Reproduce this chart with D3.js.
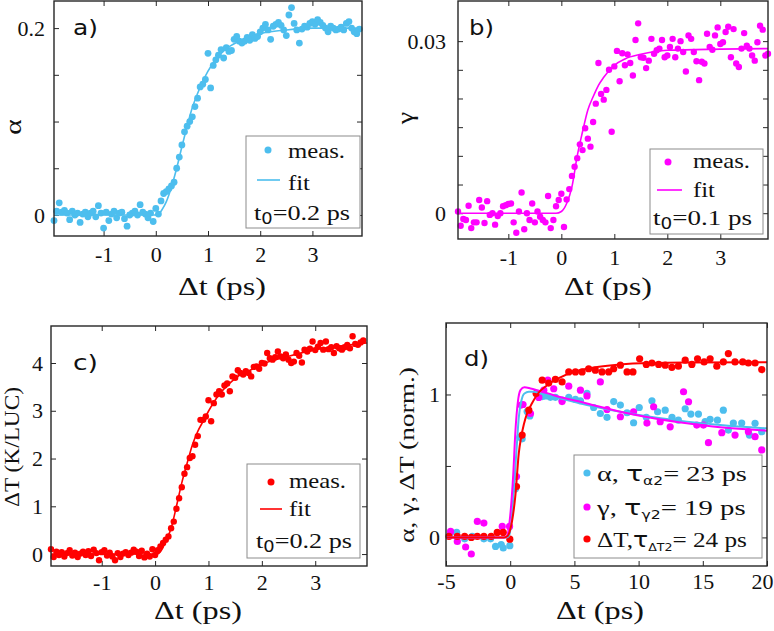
<!DOCTYPE html>
<html><head><meta charset="utf-8">
<script src="https://cdn.jsdelivr.net/npm/d3@7"></script>
</head><body style="margin:0">
<svg id="chart" width="774" height="631"></svg>
<script>
// ---------- data ----------
const tGrid = [
-1.95,-1.9,-1.85,-1.8,-1.75,-1.7,-1.65,-1.6,-1.55,-1.5,
-1.45,-1.4,-1.35,-1.3,-1.25,-1.2,-1.15,-1.1,-1.05,-1,
-0.95,-0.9,-0.85,-0.8,-0.75,-0.7,-0.65,-0.6,-0.55,-0.5,
-0.45,-0.4,-0.35,-0.3,-0.25,-0.2,-0.15,-0.1,-0.05,0,
0.05,0.1,0.15,0.2,0.25,0.3,0.35,0.4,0.45,0.5,
0.55,0.6,0.65,0.7,0.75,0.8,0.85,0.9,0.95,1,
1.05,1.1,1.15,1.2,1.25,1.3,1.35,1.4,1.45,1.5,
1.55,1.6,1.65,1.7,1.75,1.8,1.85,1.9,1.95,2,
2.05,2.1,2.15,2.2,2.25,2.3,2.35,2.4,2.45,2.5,
2.55,2.6,2.65,2.7,2.75,2.8,2.85,2.9,2.95,3,
3.05,3.1,3.15,3.2,3.25,3.3,3.35,3.4,3.45,3.5,
3.55,3.6,3.65,3.7,3.75,3.8,3.85,3.9];

const alphaMeas = [
-0.006,0.004,0.013,0.003,0.005,0.002,-0.005,0.004,0.000,0.002,
-0.008,0.001,0.003,-0.002,0.002,0.004,-0.002,0.010,0.002,-0.014,
0.003,-0.006,0.001,0.004,-0.003,0.002,0.003,-0.004,-0.012,0.000,
0.002,0.004,0.000,0.011,0.003,0.001,-0.003,0.002,-0.007,0.007,
0.001,0.015,0.023,0.025,0.028,0.031,0.035,0.050,0.062,0.075,
0.089,0.095,0.100,0.105,0.116,0.125,0.137,0.140,0.145,0.173,
0.136,0.160,0.166,0.171,0.177,0.168,0.179,0.175,0.176,0.188,
0.191,0.186,0.184,0.186,0.190,0.187,0.193,0.189,0.191,0.196,
0.200,0.204,0.198,0.188,0.202,0.204,0.206,0.203,0.198,0.192,
0.214,0.222,0.205,0.198,0.184,0.199,0.202,0.201,0.205,0.207,
0.204,0.209,0.206,0.203,0.200,0.196,0.202,0.200,0.198,0.199,
0.201,0.198,0.205,0.207,0.200,0.196,0.194,0.199];

const gammaMeas = [
0.0003,-0.0022,-0.0010,-0.0012,0.0013,-0.0026,-0.0016,-0.0016,0.0023,0.0010,
-0.0017,0.0021,-0.0003,0.0000,-0.0020,-0.0005,0.0000,0.0012,0.0014,0.0016,
0.0017,-0.0016,-0.0034,0.0003,0.0036,-0.0028,0.0000,-0.0012,0.0017,-0.0016,
0.0003,-0.0006,-0.0012,-0.0016,0.0030,-0.0026,-0.0012,0.0012,0.0023,0.0034,
-0.0024,0.0024,0.0042,0.0065,0.0081,0.0096,0.0120,0.0110,0.0148,0.0130,
0.0116,0.0159,0.0191,0.0262,0.0208,0.0198,0.0215,0.0250,0.0142,0.0256,
0.0283,0.0230,0.0279,0.0258,0.0277,0.0262,0.0240,0.0302,0.0331,0.0272,
0.0271,0.0253,0.0266,0.0304,0.0278,0.0284,0.0287,0.0302,0.0272,0.0275,
0.0290,0.0304,0.0272,0.0287,0.0300,0.0281,0.0247,0.0310,0.0304,0.0281,
0.0265,0.0232,0.0264,0.0261,0.0313,0.0290,0.0285,0.0310,0.0324,0.0295,
0.0298,0.0316,0.0325,0.0272,0.0321,0.0261,0.0255,0.0287,0.0314,0.0292,
0.0287,0.0275,0.0266,0.0298,0.0327,0.0320,0.0275,0.0278];

const dTMeas = [
0.10,-0.06,0.05,-0.02,0.04,-0.05,0.02,0.08,-0.03,0.03,
-0.06,0.01,0.05,-0.02,0.06,-0.04,0.09,0.02,-0.13,0.04,
0.08,-0.03,0.03,-0.05,-0.13,0.02,-0.06,0.01,0.04,-0.02,
0.03,0.09,0.05,-0.04,0.07,-0.07,0.01,-0.05,0.10,-0.02,
0.08,0.16,0.23,0.30,0.37,0.54,0.68,0.95,1.17,1.40,
1.68,1.82,2.01,2.05,2.29,2.47,2.81,2.81,2.88,3.22,
2.78,3.16,3.34,3.41,3.34,3.53,3.57,3.41,3.72,3.69,
3.85,3.79,3.76,3.83,3.79,3.72,3.92,3.93,3.88,4.00,
3.99,4.21,4.10,4.07,4.12,4.24,4.14,4.10,4.18,4.07,
4.00,4.03,4.21,4.15,4.01,4.28,4.24,4.30,4.45,4.27,
4.34,4.42,4.28,4.45,4.29,4.33,4.21,4.35,4.31,4.28,
4.33,4.38,4.31,4.56,4.40,4.38,4.43,4.47];

// fits: [t, value]
const alphaFit = [[-1.95,0],[0.05,0],[0.1,0.004],[0.2,0.014],[0.3,0.03],[0.4,0.05],[0.5,0.073],[0.6,0.095],[0.7,0.115],[0.8,0.13],[0.9,0.143],[1.0,0.154],[1.2,0.17],[1.4,0.18],[1.6,0.186],[1.8,0.19],[2.0,0.194],[2.5,0.198],[3.0,0.2],[3.95,0.2]];
const gammaFit = [[-1.95,0],[-0.1,0],[0,0.0003],[0.1,0.0017],[0.2,0.0046],[0.3,0.0100],[0.4,0.0142],[0.5,0.018],[0.6,0.0203],[0.7,0.0223],[0.8,0.0237],[1.0,0.0258],[1.2,0.0269],[1.5,0.0277],[2.0,0.0284],[3.0,0.0286],[3.9,0.0287]];
const dTFit = [[-1.95,0],[0.05,0],[0.1,0.05],[0.2,0.27],[0.3,0.54],[0.4,1.0],[0.5,1.49],[0.6,1.9],[0.7,2.29],[0.8,2.57],[0.9,2.78],[1.0,2.99],[1.2,3.34],[1.4,3.58],[1.6,3.76],[1.8,3.86],[2.0,3.97],[2.5,4.14],[3.0,4.28],[3.5,4.36],[3.97,4.42]];

// panel d (normalised, long window)
const alphaNorm = [[-4.65,0.035],[-4.17,0.035],[-3.55,-0.01],[-2.95,0.007],[-2.05,-0.01],[-1.53,-0.01],[-1.14,-0.063],[-0.7,-0.05],[-0.54,-0.074],[-0.03,-0.058],[0.41,0.34],[0.75,0.70],[0.93,0.69],[1.32,0.88],[1.53,0.85],[2.1,1.0],[2.5,0.985],[2.75,0.99],[3.13,0.98],[3.52,0.98],[4.04,0.96],[4.56,0.98],[5.08,0.965],[5.47,0.956],[5.98,1.007],[6.5,0.909],[7.02,0.867],[7.54,0.84],[8.06,0.95],[8.58,0.926],[9.1,0.872],[9.61,0.802],[10.05,0.909],[10.6,0.84],[11.04,0.956],[11.48,0.879],[12.07,0.89],[12.6,0.84],[13.1,0.82],[13.63,0.90],[14.07,0.863],[14.66,0.863],[15.18,0.81],[15.57,0.826],[16.14,0.82],[16.6,0.89],[16.99,0.751],[17.38,0.80],[18.03,0.80],[18.63,0.716],[19.07,0.798],[19.59,0.74]];
const gammaNorm = [[-4.64,0.042],[-4.12,-0.028],[-3.47,-0.067],[-3.03,-0.116],[-2.56,0.112],[-2.05,0.10],[-0.62,0.077],[-0.05,0.077],[0.49,0.426],[0.85,0.926],[1.0,0.93],[1.58,0.867],[2.23,0.979],[2.62,1.03],[2.93,1.10],[3.39,1.04],[4.04,0.95],[4.56,1.058],[5.47,1.03],[5.98,0.99],[7.02,1.088],[7.54,0.895],[8.58,0.844],[9.61,0.879],[10.65,0.80],[11.17,0.914],[11.68,0.809],[12.46,0.774],[13.5,1.019],[13.89,0.949],[14.53,0.786],[15.05,0.786],[15.44,0.663],[16.48,0.733],[17.51,0.716],[18.55,0.74],[19.07,0.705],[19.59,0.612]];
const dTNorm = [[-4.77,0.007],[-4.12,0.007],[-3.55,0.007],[-3.03,0.0],[-2.56,0.007],[-2.05,0.007],[-1.48,0.007],[-1.01,0.035],[-0.54,0.035],[-0.03,-0.012],[0.49,0.356],[0.93,0.716],[1.45,0.89],[2.02,1.007],[2.49,1.10],[3.0,1.08],[3.52,1.105],[4.04,1.088],[4.56,1.158],[5.08,1.158],[5.6,1.158],[6.11,1.18],[6.63,1.17],[7.15,1.158],[7.67,1.158],[8.06,1.18],[8.58,1.205],[9.1,1.158],[9.56,1.158],[10.08,1.25],[10.6,1.21],[11.04,1.22],[11.56,1.21],[12.07,1.205],[12.59,1.19],[13.1,1.198],[13.63,1.24],[14.15,1.21],[14.59,1.25],[15.1,1.228],[15.57,1.25],[16.09,1.198],[16.6,1.228],[16.99,1.286],[17.51,1.228],[18.11,1.228],[18.55,1.22],[19.07,1.22],[19.59,1.174]];
const alphaNormFit = [[-5,0],[-0.3,0],[-0.1,0.01],[0.08,0.1],[0.28,0.33],[0.49,0.61],[0.67,0.84],[0.88,0.96],[1.11,1.007],[1.45,1.019],[1.84,1.019],[2.36,1.007],[3.39,0.984],[5.98,0.926],[8.58,0.879],[11.17,0.84],[13.76,0.81],[16.35,0.786],[20,0.763]];
const gammaNormFit = [[-5,0],[-0.4,0],[-0.2,0.02],[0,0.15],[0.23,0.43],[0.41,0.75],[0.6,0.95],[0.8,1.03],[1.11,1.05],[1.58,1.042],[2.1,1.03],[3.39,0.995],[5.98,0.937],[8.58,0.879],[11.17,0.833],[13.76,0.798],[16.35,0.77],[20,0.747]];
const dTNormFit = [[-5,0],[-0.5,0],[-0.2,0.01],[0,0.053],[0.41,0.30],[0.67,0.59],[0.85,0.70],[1.06,0.79],[1.32,0.87],[1.71,0.94],[2.1,1.0],[2.88,1.065],[3.91,1.12],[4.95,1.158],[6.5,1.188],[8.58,1.21],[11.17,1.22],[13.76,1.223],[20,1.225]];

// tick values / labels
const xTicksShort = [-1,0,1,2,3];
const xTicksLong = [-5,0,5,10,15,20];
const yTicksA = [0,0.05,0.1,0.15,0.2], yLabA = {0:"0",0.2:"0.2"};
const yTicksB = [0,0.005,0.01,0.015,0.02,0.025,0.03], yLabB = {0:"0",0.03:"0.03"};
const yTicksC = [0,1,2,3,4], yLabC = {0:"0",1:"1",2:"2",3:"3",4:"4"};
const yTicksD = [0,0.5,1], yLabD = {0:"0",1:"1"};
const legendWords = ["meas.","fit"];
const t0Values = ["0.2","0.1","0.2"];
const tauValues = ["23","19","24"];

// ---------- drawing ----------
const BLUE="#4DBEEE", MAG="#FF00FF", RED="#FF0000", AX="#262626";
const SERIF = '"Liberation Serif"', SANS = '"DejaVu Sans"';
const svg = d3.select("#chart");

function rich(parent, x, y, parts, o={}) {
  const g = parent.append("g").attr("transform", `translate(${x},${y})` + (o.rotate ? ` rotate(${o.rotate})` : ""));
  const t = g.append("text").style("font-family", o.sans ? SANS : SERIF)
    .attr("text-anchor", o.anchor || "start").attr("fill", o.fill || "#111")
    .style("font-size", (o.size || 22) + "px");
  parts.forEach(p => {
    const s = t.append("tspan").text(p.t);
    if (p.sans) s.style("font-family", SANS);
    if (p.s) s.style("font-size", p.s + "px");
    if (p.dy) s.attr("dy", p.dy);
  });
  if (o.width) {
    const w = t.node().getBBox().width;
    if (w > 0) t.attr("transform", `scale(${o.width / w},1)`);
  }
  return t;
}
const fmtNum = d => (d < 0 ? "-" + Math.abs(d) : String(d));

function panel(p) {
  const g = svg.append("g");
  const [X0, Y0, X1, Y1] = p.box;
  const x = d3.scaleLinear().domain(p.xDomain).range([X0, X1]);
  const y = d3.scaleLinear().domain(p.yDomain).range([Y1, Y0]);

  const styleAxis = sel => {
    sel.attr("font-family", null).attr("font-size", null);
    sel.select(".domain").remove();
    sel.selectAll(".tick line").attr("stroke", AX).attr("stroke-width", 1);
    sel.selectAll(".tick text").style("font-family", SERIF).style("font-size", "22px").attr("fill", "#111");
  };
  const bottom = g.append("g").attr("transform", `translate(0,${Y1})`)
    .call(d3.axisBottom(x).tickValues(p.xTicks).tickSizeInner(-5).tickSizeOuter(0).tickPadding(p.xPad).tickFormat(fmtNum)).call(styleAxis);
  if (p.lastDx) bottom.selectAll(".tick text").filter((d, i, n) => i === n.length - 1).attr("dx", p.lastDx);
  g.append("g").attr("transform", `translate(0,${Y0})`)
    .call(d3.axisTop(x).tickValues(p.xTicks).tickSizeInner(-5).tickSizeOuter(0).tickFormat("")).call(styleAxis);
  g.append("g").attr("transform", `translate(${X0},0)`)
    .call(d3.axisLeft(y).tickValues(p.yTicks).tickSizeInner(-5).tickSizeOuter(0).tickPadding(p.yPad).tickFormat(d => p.yLab[d] || "")).call(styleAxis);
  g.append("g").attr("transform", `translate(${X1},0)`)
    .call(d3.axisRight(y).tickValues(p.yTicks).tickSizeInner(-5).tickSizeOuter(0).tickFormat("")).call(styleAxis);

  // data
  p.series.forEach(s => {
    g.append("g").selectAll("circle").data(s.pts).join("circle")
      .attr("cx", d => x(d[0])).attr("cy", d => y(d[1])).attr("r", s.r).attr("fill", s.color);
  });
  const line = d3.line().x(d => x(d[0])).y(d => y(d[1])).curve(d3.curveMonotoneX);
  p.fits.forEach(f => {
    g.append("path").datum(f.pts).attr("d", line).attr("fill", "none").attr("stroke", f.color).attr("stroke-width", f.w);
  });

  // frame
  g.append("rect").attr("x", X0).attr("y", Y0).attr("width", X1 - X0).attr("height", Y1 - Y0)
    .attr("fill", "none").attr("stroke", AX).attr("stroke-width", 1.4);

  // panel letter
  rich(g, p.letter[1], p.letter[2], [{t: p.letter[0]}], {sans: true, size: 22, width: 25});
  // x label
  rich(g, p.xLab[0], p.xLab[1], [{t: "\u0394t (ps)"}], {anchor: "middle", size: 26, width: 88});
  // y label
  rich(g, p.yLabel.x, p.yLabel.y, p.yLabel.parts, {anchor: "middle", rotate: -90, size: p.yLabel.size, width: p.yLabel.width});
  return g;
}

function simpleLegend(g, L, color, t0) {
  g.append("rect").attr("x", L.box[0]).attr("y", L.box[1]).attr("width", L.box[2] - L.box[0]).attr("height", L.box[3] - L.box[1])
    .attr("fill", "#fff").attr("stroke", "#8c8c8c").attr("stroke-width", 1);
  g.append("circle").attr("cx", L.dot[0]).attr("cy", L.dot[1]).attr("r", 3.5).attr("fill", color);
  rich(g, L.tx, L.y1, [{t: legendWords[0]}], {size: 22, width: 57});
  g.append("line").attr("x1", L.line[0]).attr("x2", L.line[1]).attr("y1", L.line[2]).attr("y2", L.line[2])
    .attr("stroke", color).attr("stroke-width", 1.6);
  rich(g, L.tx, L.y2, [{t: legendWords[1]}], {size: 22, width: 22});
  rich(g, L.t0x, L.y3, [{t: "t"}, {t: "0", sans: true, s: 15, dy: 4}, {t: "=" + t0 + " ps", dy: -4}], {size: 22, width: L.t0w});
}

const xTpts = (vals) => tGrid.map((t, i) => [t, vals[i]]);

// a)
const gA = panel({box: [54, 1, 362, 236], xDomain: [-1.95, 3.95], yDomain: [-0.0225, 0.229],
  xTicks: xTicksShort, yTicks: yTicksA, yLab: yLabA, xPad: 10, yPad: 9,
  series: [{pts: xTpts(alphaMeas), color: BLUE, r: 3.4}],
  fits: [{pts: alphaFit, color: BLUE, w: 1.6}],
  letter: ["a)", 73, 35], xLab: [222, 295],
  yLabel: {x: 21, y: 127, parts: [{t: "\u03b1"}], size: 24, width: 16}});
simpleLegend(gA, {box: [246, 136, 360, 228], dot: [268, 150], tx: 288, y1: 158, line: [257, 280, 180], y2: 190, t0x: 254, y3: 220, t0w: 96}, BLUE, t0Values[0]);

// b)
const gB = panel({box: [458, 1, 768, 239], xDomain: [-1.95, 3.9], yDomain: [-0.0045, 0.037],
  xTicks: xTicksShort, yTicks: yTicksB, yLab: yLabB, xPad: 10, yPad: 12,
  series: [{pts: xTpts(gammaMeas), color: MAG, r: 3.2}],
  fits: [{pts: gammaFit, color: MAG, w: 1.6}],
  letter: ["b)", 469, 35], xLab: [608, 295],
  yLabel: {x: 413, y: 118, parts: [{t: "\u03b3"}], size: 24, width: 14}});
simpleLegend(gB, {box: [650, 149, 763, 234], dot: [668, 162], tx: 693, y1: 168, line: [657, 682, 190], y2: 197, t0x: 653, y3: 225, t0w: 99}, MAG, t0Values[1]);

// c)
const gC = panel({box: [51, 326, 367, 566], xDomain: [-1.95, 3.97], yDomain: [-0.25, 4.775],
  xTicks: xTicksShort, yTicks: yTicksC, yLab: yLabC, xPad: 8, yPad: 8,
  series: [{pts: xTpts(dTMeas), color: RED, r: 3.2}],
  fits: [{pts: dTFit, color: RED, w: 1.6}],
  letter: ["c)", 73, 370], xLab: [198, 619],
  yLabel: {x: 19, y: 447, parts: [{t: "\u0394T (K/LUC)"}], size: 22, width: 120}});
simpleLegend(gC, {box: [247, 464, 360, 558], dot: [271, 482], tx: 289, y1: 488, line: [260, 282, 509], y2: 516, t0x: 256, y3: 548, t0w: 96}, RED, t0Values[2]);

// d)
const gD = panel({box: [446, 323, 767, 566], xDomain: [-5, 20], yDomain: [-0.2, 1.5],
  xTicks: xTicksLong, yTicks: yTicksD, yLab: yLabD, xPad: 7, yPad: 6, lastDx: -5,
  series: [{pts: alphaNorm, color: BLUE, r: 3.6}, {pts: gammaNorm, color: MAG, r: 3.6}, {pts: dTNorm, color: RED, r: 3.6}],
  fits: [{pts: alphaNormFit, color: BLUE, w: 2}, {pts: gammaNormFit, color: MAG, w: 2}, {pts: dTNormFit, color: RED, w: 2}],
  letter: ["d)", 464, 366], xLab: [600, 619],
  yLabel: {x: 414, y: 455, parts: [{t: "\u03b1, \u03b3, \u0394T (norm.)"}], size: 22, width: 176}});
{
  const g = gD;
  g.append("rect").attr("x", 574).attr("y", 455).attr("width", 188).attr("height", 103)
    .attr("fill", "#fff").attr("stroke", "#8c8c8c").attr("stroke-width", 1);
  const rows = [
    {c: BLUE, dotY: 473, base: 481, parts: [{t: "\u03b1, "}, {t: "\u03c4", sans: true}, {t: "\u03b12", sans: true, s: 12, dy: 4}, {t: "= " + tauValues[0] + " ps", dy: -4}]},
    {c: MAG, dotY: 507, base: 515, parts: [{t: "\u03b3,  "}, {t: "\u03c4", sans: true}, {t: "\u03b32", sans: true, s: 12, dy: 4}, {t: "= " + tauValues[1] + " ps", dy: -4}]},
    {c: RED, dotY: 539, base: 547, parts: [{t: "\u0394T,"}, {t: "\u03c4", sans: true}, {t: "\u0394T2", sans: true, s: 11, dy: 4}, {t: "= " + tauValues[2] + " ps", dy: -4}]}
  ];
  rows.forEach(r => {
    g.append("circle").attr("cx", 587).attr("cy", r.dotY).attr("r", 3.6).attr("fill", r.c);
    rich(g, 597, r.base, r.parts, {size: 22, width: 150});
  });
}
</script>
</body></html>
